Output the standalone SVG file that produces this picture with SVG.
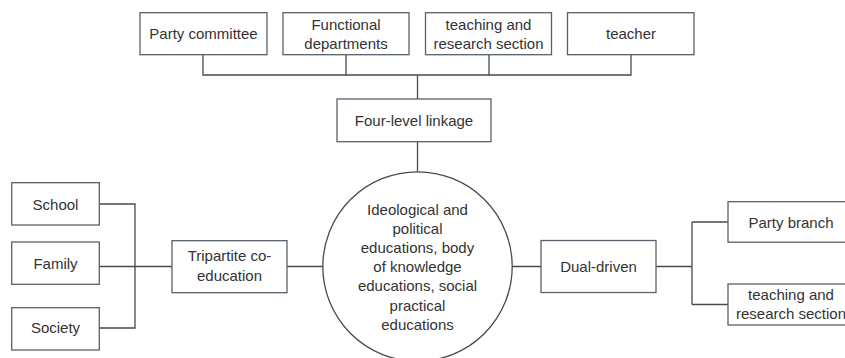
<svg xmlns="http://www.w3.org/2000/svg" width="845" height="358" viewBox="0 0 845 358">
<style>
.box{fill:#ffffff;stroke:#56616c;stroke-width:1.3}
.ln{fill:none;stroke:#4a4a4a;stroke-width:1.3}
text{font-family:"Liberation Sans","Noto Sans",Arial,sans-serif;font-size:15px;fill:#333333;text-anchor:middle}
</style>
<rect width="845" height="358" fill="#ffffff"/>
<g id="connectors">
<path class="ln" d="M203,55 V75 H631 V55 M346,55 V75 M489,55 V75 M417.5,75 V99"/>
<path class="ln" d="M417.5,142 V172"/>
<path class="ln" d="M99,204 H135 V328 H99 M99,266.5 H172 M287,266.5 H323"/>
<path class="ln" d="M512,266.5 H541 M656,266.5 H692 M692,222 V304.5 M692,222 H728 M692,304.5 H728"/>
</g>
<g id="party-committee"><rect class="box" x="140" y="12.7" width="127" height="42"/><text x="203.5" y="39">Party committee</text></g>
<g id="functional-departments"><rect class="box" x="283" y="12.7" width="126" height="42"/><text x="346" y="30">Functional</text><text x="346" y="49">departments</text></g>
<g id="teaching-research-top"><rect class="box" x="425.5" y="12.7" width="126" height="42"/><text x="488.5" y="30">teaching and</text><text x="488.5" y="49">research section</text></g>
<g id="teacher"><rect class="box" x="567.5" y="12.7" width="126.5" height="42"/><text x="631" y="39">teacher</text></g>
<g id="four-level-linkage"><rect class="box" x="337" y="99" width="154" height="42.7"/><text x="414" y="126">Four-level linkage</text></g>
<g id="center"><circle cx="417.5" cy="266.5" r="94.7" fill="#ffffff" stroke="#4a4a4a" stroke-width="1.3"/>
<text x="417.5" y="214.5">Ideological and</text>
<text x="417.5" y="233.7">political</text>
<text x="417.5" y="252.9">educations, body</text>
<text x="417.5" y="272.1">of knowledge</text>
<text x="417.5" y="291.3">educations, social</text>
<text x="417.5" y="310.5">practical</text>
<text x="417.5" y="329.7">educations</text></g>
<g id="school"><rect class="box" x="11.7" y="182.7" width="87.6" height="42.3"/><text x="55.5" y="209.5">School</text></g>
<g id="family"><rect class="box" x="11.7" y="242" width="87.6" height="42.3"/><text x="55.5" y="268.5">Family</text></g>
<g id="society"><rect class="box" x="11.7" y="307.7" width="87.6" height="42.3"/><text x="55.5" y="333">Society</text></g>
<g id="tripartite"><rect class="box" x="172" y="240.7" width="115" height="52"/><text x="229.5" y="261">Tripartite co-</text><text x="229.5" y="281">education</text></g>
<g id="dual-driven"><rect class="box" x="541" y="240.5" width="115" height="52"/><text x="598.5" y="271.5">Dual-driven</text></g>
<g id="party-branch"><rect class="box" x="728" y="201.7" width="126" height="40.5"/><text x="791" y="227.5">Party branch</text></g>
<g id="teaching-research-right"><rect class="box" x="728" y="284" width="126" height="41"/><text x="791" y="300">teaching and</text><text x="791" y="319">research section</text></g>
</svg>
